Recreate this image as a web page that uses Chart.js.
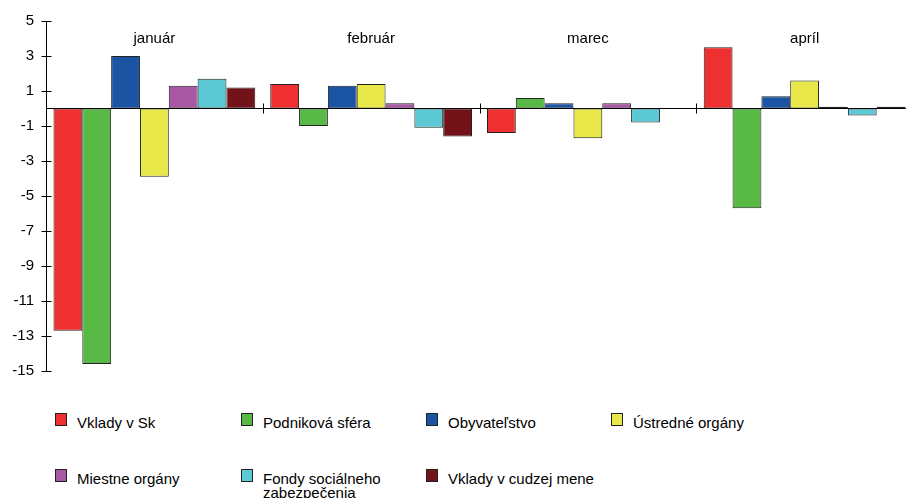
<!DOCTYPE html>
<html>
<head>
<meta charset="utf-8">
<script src="https://cdn.jsdelivr.net/npm/chart.js@4/dist/chart.umd.min.js"></script>
<style>
  html, body { margin: 0; padding: 0; background: #fff; overflow: hidden; width: 906px; height: 498px; }
  #chart { position: absolute; left: 0; top: 0; }
  #legend { position: absolute; left: 0; top: 0; font: 15px "Liberation Sans", Arial, sans-serif; color: #000; }
  .item { position: absolute; display: flex; align-items: flex-start; }
  .box { width: 12px; height: 13px; box-sizing: border-box; border: 1px solid #222; flex: none; }
  .txt { margin-left: 10px; margin-top: 3px; width: 160px; line-height: 14px; }
</style>
</head>
<body>
<canvas id="chart" width="913" height="400"></canvas>
<div id="legend"></div>
<script>
// monthly changes by sector
const categories = ["január", "február", "marec", "apríl"];
const seriesNames = [
  "Vklady v Sk", "Podniková sféra", "Obyvateľstvo", "Ústredné orgány",
  "Miestne orgány", "Fondy sociálneho zabezpečenia", "Vklady v cudzej mene"
];
const vkladySk = [-12.7, 1.4, -1.4, 3.5];
const podnikovaSfera = [-14.6, -1.0, 0.6, -5.7];
const obyvatelstvo = [3.0, 1.3, 0.3, 0.7];
const ustredneOrgany = [-3.9, 1.4, -1.7, 1.6];
const miestneOrgany = [1.3, 0.3, 0.3, 0.1];
const fondy = [1.7, -1.1, -0.8, -0.4];
const vkladyCudzia = [1.2, -1.6, 0, 0.1];
const yTicks = [5, 3, 1, -1, -3, -5, -7, -9, -11, -13, -15];

const colors = ["#ef3030", "#58b947", "#1b54a3", "#e8e84b", "#a858a3", "#5cc8d3", "#74121a"];
const series = [vkladySk, podnikovaSfera, obyvatelstvo, ustredneOrgany, miestneOrgany, fondy, vkladyCudzia];

Chart.defaults.font.family = '"Liberation Sans", Arial, sans-serif';
Chart.defaults.font.size = 15;
Chart.defaults.color = "#000";

// tick marks that cross the axis lines
const crossTicks = {
  id: "crossTicks",
  afterDatasetsDraw(chart) {
    const { ctx, chartArea, scales: { x, y } } = chart;
    ctx.save();
    ctx.strokeStyle = "#000";
    ctx.lineWidth = 1;
    ctx.beginPath();
    const ax = Math.round(chartArea.left) + 0.5;
    yTicks.forEach(v => {
      const py = Math.round(y.getPixelForValue(v)) + 0.5;
      ctx.moveTo(ax - 5, py);
      ctx.lineTo(ax + 5, py);
    });
    const y0 = y.getPixelForValue(0);
    for (let i = 1; i < categories.length; i++) {
      const px = Math.round((x.getPixelForValue(i - 1) + x.getPixelForValue(i)) / 2) + 0.5;
      ctx.moveTo(px, y0 - 5);
      ctx.lineTo(px, y0 + 5);
    }
    ctx.stroke();
    ctx.restore();
  }
};

const chart = new Chart(document.getElementById("chart"), {
  type: "bar",
  data: {
    labels: categories,
    datasets: series.map((d, i) => ({
      label: seriesNames[i],
      data: d,
      backgroundColor: colors[i],
      borderColor: "#222",
      borderWidth: 1,
      borderSkipped: false
    }))
  },
  options: {
    responsive: false,
    animation: false,
    layout: { padding: { top: 19.5, bottom: 29, left: 0, right: 0 } },
    plugins: { legend: { display: false }, tooltip: { enabled: false } },
    datasets: { bar: { categoryPercentage: 0.931, barPercentage: 1 } },
    scales: {
      x: {
        position: { y: 0 },
        offset: true,
        grid: { display: false, drawTicks: false },
        border: { display: true, color: "#000", width: 1 },
        ticks: { display: false }
      },
      x2: {
        type: "category",
        position: { y: 5 },
        offset: true,
        grid: { display: false, drawTicks: false },
        border: { display: false },
        ticks: { padding: 9, maxRotation: 0, autoSkip: false }
      },
      y: {
        min: -15,
        max: 5,
        afterBuildTicks: s => { s.ticks = yTicks.map(v => ({ value: v })); },
        afterFit: s => { s.width = 46; },
        grid: { display: false, drawTicks: false },
        border: { display: true, color: "#000", width: 1 },
        ticks: { padding: 12 }
      }
    }
  },
  plugins: [crossTicks]
});

// legend laid out in a 4-column grid like the original
const legendCols = [55, 241, 426, 611];
const legendRows = [413, 469];
const legend = document.getElementById("legend");
chart.data.datasets.forEach((ds, i) => {
  const item = document.createElement("div");
  item.className = "item";
  item.style.left = legendCols[i % 4] + "px";
  item.style.top = legendRows[Math.floor(i / 4)] + "px";
  const box = document.createElement("span");
  box.className = "box";
  box.style.background = ds.backgroundColor;
  const txt = document.createElement("span");
  txt.className = "txt";
  txt.textContent = ds.label;
  item.appendChild(box);
  item.appendChild(txt);
  legend.appendChild(item);
});
</script>
</body>
</html>
